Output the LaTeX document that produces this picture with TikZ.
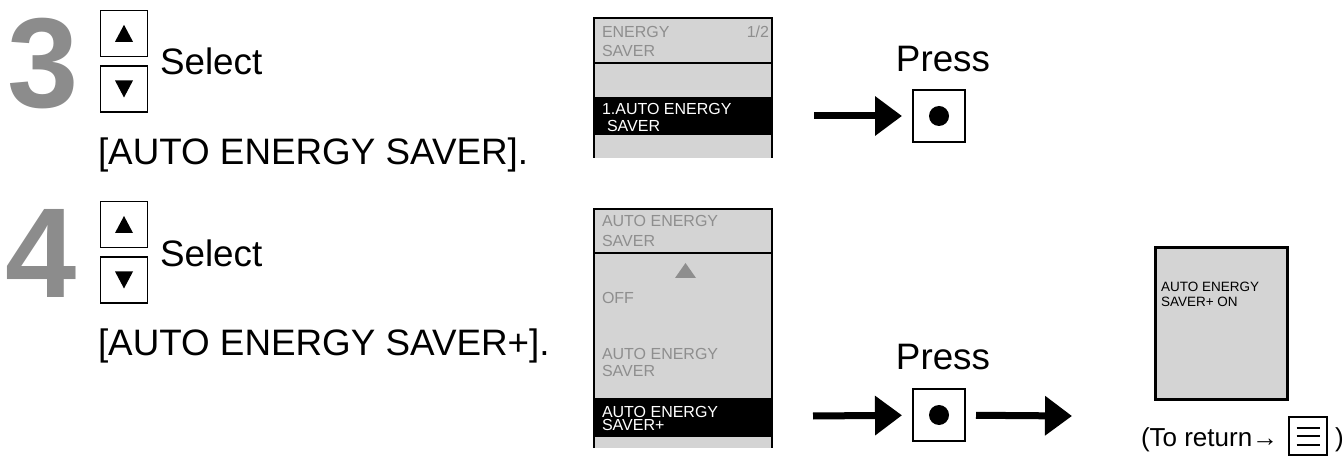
\documentclass[tikz,border=0pt]{standalone}
\usepackage{fontspec}
\setmainfont{Liberation Sans}
\usetikzlibrary{arrows.meta, positioning, calc}

\definecolor{numgray}{HTML}{8C8C8C}
\definecolor{lcdfill}{HTML}{D4D4D4}
\definecolor{lcdtext}{HTML}{8E8E8E}

\begin{document}
\begin{tikzpicture}[
    x=0.5pt, y=-0.5pt,
    every node/.style={inner sep=0pt, outer sep=0pt},
    stepnum/.style={anchor=base west, font=\fontsize{64}{64}\selectfont\bfseries, text=numgray},
    body/.style={anchor=base west, font=\fontsize{18.4}{22}\selectfont},
    keybox/.style={draw, line width=0.7pt, minimum width=23.5pt, minimum height=23pt},
    okbox/.style={draw, line width=0.75pt, minimum size=26pt},
    lcd/.style={anchor=base west, font=\fontsize{8}{9}\selectfont, text=lcdtext},
    lcdsel/.style={lcd, text=white},
    frame/.style={line width=1pt},
    bigarrow/.style={-{Triangle[length=13.5pt, width=19pt]}, line width=3.5pt},
]
\useasboundingbox (0,0) rectangle (1343,459);

% Step 3
\node[stepnum] (n3) at (7,108) {3};
\node[keybox] (up3) at (124,33.3) {};
\node[keybox] (dn3) at (124,89) {};
\fill (up3.center) ++(-9,8.5) -- ++(18,0) -- ++(-9,-17) -- cycle;
\fill (dn3.center) ++(-9,-8.5) -- ++(18,0) -- ++(-9,17) -- cycle;
\node[body] (sel3) at (160,75) {Select};
\node[body] (item3) at (98,165) {[AUTO ENERGY SAVER].};

% Screen: energy saver menu
\fill[lcdfill] (594,18) rectangle (772,158);
\fill (594,97) rectangle (772,135);
\draw[frame] (594,158) -- (594,18) -- (772,18) -- (772,158);
\draw[frame] (594,63) -- (772,63);
\node[lcd] (m1a) at (602,38) {ENERGY};
\node[lcd] (m1b) at (602,57) {SAVER};
\node[lcd, anchor=base east] (m1p) at (769,38) {1/2};
\node[lcdsel] (m1c) at (602,115) {1.AUTO ENERGY};
\node[lcdsel] (m1d) at (607,132) {SAVER};

% Press (step 3)
\node[okbox] (ok3) at (939,116) {};
\fill (ok3.center) circle (5pt);
\node[body, anchor=base] (press3) at (943,72) {Press};
\coordinate (from3) at (814,116);
\draw[bigarrow, shorten >=5.5pt] (from3) -- (ok3);

% Step 4
\node[stepnum] (n4) at (5,298) {4};
\node[keybox] (up4) at (124,224.5) {};
\node[keybox] (dn4) at (124,280) {};
\fill (up4.center) ++(-9,8.5) -- ++(18,0) -- ++(-9,-17) -- cycle;
\fill (dn4.center) ++(-9,-8.5) -- ++(18,0) -- ++(-9,17) -- cycle;
\node[body] (sel4) at (160,267) {Select};
\node[body] (item4) at (98,356) {[AUTO ENERGY SAVER+].};

% Screen: auto energy saver options
\fill[lcdfill] (594,209) rectangle (772,448);
\fill (594,398) rectangle (772,437);
\draw[frame] (594,448) -- (594,209) -- (772,209) -- (772,448);
\draw[frame] (594,253) -- (772,253);
\node[lcd] (m2a) at (602,227) {AUTO ENERGY};
\node[lcd] (m2b) at (602,247) {SAVER};
\fill[lcdtext] (675,278) -- (696,278) -- (685.5,263) -- cycle;
\node[lcd] (m2c) at (602,304) {OFF};
\node[lcd] (m2d) at (602,360) {AUTO ENERGY};
\node[lcd] (m2e) at (602,377) {SAVER};
\node[lcdsel] (m2f) at (602,417) {AUTO ENERGY};
\node[lcdsel] (m2g) at (602,430) {SAVER+};

% Press (step 4)
\node[okbox] (ok4) at (939,415) {};
\fill (ok4.center) circle (5pt);
\node[body, anchor=base] (press4) at (943,370) {Press};
\coordinate (from4) at (813,416);
\coordinate (to4) at (1072,416);
\draw[bigarrow, shorten >=5.5pt] (from4) -- (ok4);
\draw[bigarrow, shorten <=5.5pt] (ok4) -- (to4);

% Result screen
\node[draw, line width=1.5pt, fill=lcdfill, minimum width=66pt, minimum height=76pt] (done) at (1221,324) {};
\node[anchor=base west, font=\fontsize{6.75}{8}\selectfont] (d1) at (1161,292) {AUTO ENERGY};
\node[anchor=base west, font=\fontsize{6.75}{8}\selectfont] (d2) at (1161,307) {SAVER+ ON};

% Return hint
\node[anchor=base west, font=\fontsize{13}{15}\selectfont] (ret) at (1141,446) {(To return→};
\node[draw, line width=0.75pt, minimum width=19pt, minimum height=19pt] (menu) at (1308,436) {};
\foreach \d in {-8.5,0,8.5}
  \draw[line width=1pt] ([shift={(-11.5,\d)}]menu.center) -- ++(23,0);
\node[anchor=base west, font=\fontsize{13}{15}\selectfont] (close) at (1335,446) {)};

\end{tikzpicture}
\end{document}
